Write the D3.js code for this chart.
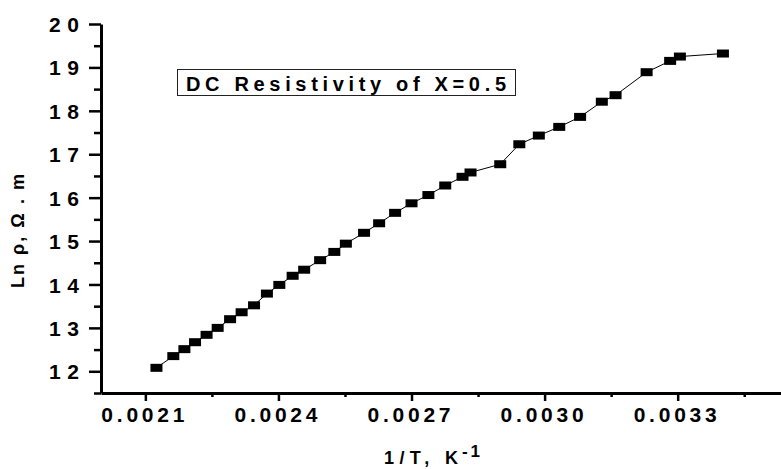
<!DOCTYPE html>
<html>
<head>
<meta charset="utf-8">
<script src="https://cdn.jsdelivr.net/npm/d3@7"></script>
<style>
  body { margin: 0; background: #fff; }
  svg { display: block; font-family: "Liberation Sans", Arial, sans-serif; font-weight: bold; }
</style>
</head>
<body>
<div id="chart"></div>
<script>
// data: 1/T (K^-1) and Ln rho
var invT = [0.002125, 0.002163, 0.002188, 0.002212, 0.002238, 0.002263, 0.002291, 0.002317,
            0.002345, 0.002374, 0.002402, 0.002432, 0.002458, 0.002494, 0.002526, 0.002552,
            0.002593, 0.002627, 0.002663, 0.002700, 0.002738, 0.002776, 0.002815, 0.002833,
            0.002900, 0.002943, 0.002987, 0.003033, 0.003080, 0.003129, 0.003160, 0.003230,
            0.003283, 0.003305, 0.003402]
var lnRho = [12.08, 12.35, 12.51, 12.67, 12.84, 13.00, 13.20, 13.36,
             13.52, 13.79, 13.99, 14.20, 14.34, 14.56, 14.75, 14.94,
             15.19, 15.41, 15.65, 15.87, 16.06, 16.28, 16.48, 16.58,
             16.77, 17.23, 17.43, 17.63, 17.86, 18.21, 18.36, 18.89,
             19.15, 19.25, 19.32]
var xTicks = [0.0021, 0.0024, 0.0027, 0.0030, 0.0033]
var xMinor = [0.00225, 0.00255, 0.00285, 0.00315, 0.00345]
var yTicks = [12, 13, 14, 15, 16, 17, 18, 19, 20]
var yMinor = [11.5, 12.5, 13.5, 14.5, 15.5, 16.5, 17.5, 18.5, 19.5]

var data = invT.map(function (d, i) { return { x: d, y: lnRho[i] } })

var width = 781, height = 469

var svg = d3.select("#chart")
    .append("svg")
    .attr("width", width)
    .attr("height", height)

var x = d3.scaleLinear()
    .domain([0.002, 0.00355])
    .range([101, 101 + 0.00155 * 443600])
var y = d3.scaleLinear()
    .domain([11.5, 20])
    .range([393, 24])

// minor ticks first
svg.append("g")
    .attr("transform", "translate(0,393)")
    .call(d3.axisBottom(x).tickValues(xMinor).tickSize(4).tickSizeOuter(0).tickFormat(""))
    .call(function (g) { g.select(".domain").remove() })
svg.append("g")
    .attr("transform", "translate(101,0)")
    .call(d3.axisLeft(y).tickValues(yMinor).tickSize(7).tickSizeOuter(0).tickFormat(""))
    .call(function (g) { g.select(".domain").remove() })

// X axis
var gx = svg.append("g")
    .attr("transform", "translate(0,393)")
    .call(d3.axisBottom(x).tickValues(xTicks).tickSize(8).tickSizeOuter(0)
        .tickFormat(d3.format(".4f")))
gx.selectAll("text")
    .attr("y", 29)
    .attr("dy", 0)
    .attr("dx", -3)
    .attr("textLength", 83)
    .attr("lengthAdjust", "spacing")

// Y axis
var gy = svg.append("g")
    .attr("transform", "translate(101,0)")
    .call(d3.axisLeft(y).tickValues(yTicks).tickSize(12).tickSizeOuter(0))
gy.selectAll("text")
    .attr("x", -22)
    .attr("dy", "0.36em")
    .attr("textLength", 30)
    .attr("lengthAdjust", "spacing")

svg.selectAll(".tick line").attr("stroke", "#000").attr("stroke-width", 2.5)
svg.selectAll(".domain").attr("stroke", "#000").attr("stroke-width", 3)
svg.selectAll(".tick text")
    .attr("fill", "#000")
    .style("font-family", "'Liberation Sans', Arial, sans-serif")
    .style("font-weight", "bold")
    .style("font-size", "21px")

// the line and markers
svg.append("path")
    .datum(data)
    .attr("d", d3.line()
        .x(function (d) { return x(d.x) })
        .y(function (d) { return y(d.y) }))
    .attr("fill", "none")
    .attr("stroke", "#000")
    .attr("stroke-width", 1)

svg.selectAll(".pt")
    .data(data)
    .enter()
    .append("rect")
    .attr("class", "pt")
    .attr("x", function (d) { return x(d.x) - 6 })
    .attr("y", function (d) { return y(d.y) - 4 })
    .attr("width", 12)
    .attr("height", 8)
    .attr("fill", "#000")

// title box
svg.append("rect")
    .attr("x", 177.5)
    .attr("y", 69.5)
    .attr("width", 338)
    .attr("height", 26)
    .attr("fill", "none")
    .attr("stroke", "#222")
    .attr("stroke-width", 1)
svg.append("text")
    .attr("x", 186)
    .attr("y", 91)
    .attr("textLength", 320)
    .attr("lengthAdjust", "spacing")
    .style("font-size", "20px")
    .text("DC Resistivity of X=0.5")

// axis titles
var xt = svg.append("text")
    .attr("x", 384)
    .attr("y", 464)
    .style("font-size", "18px")
xt.append("tspan").attr("textLength", 74).attr("lengthAdjust", "spacing").text("1/T, K")
xt.append("tspan").attr("x", 462).attr("y", 457).style("font-size", "17px")
    .attr("textLength", 18).attr("lengthAdjust", "spacing").text("-1")

svg.append("text")
    .attr("transform", "translate(24,231) rotate(-90)")
    .attr("text-anchor", "middle")
    .attr("textLength", 114)
    .attr("lengthAdjust", "spacing")
    .style("font-size", "18px")
    .text("Ln ρ, Ω . m")
</script>
</body>
</html>
